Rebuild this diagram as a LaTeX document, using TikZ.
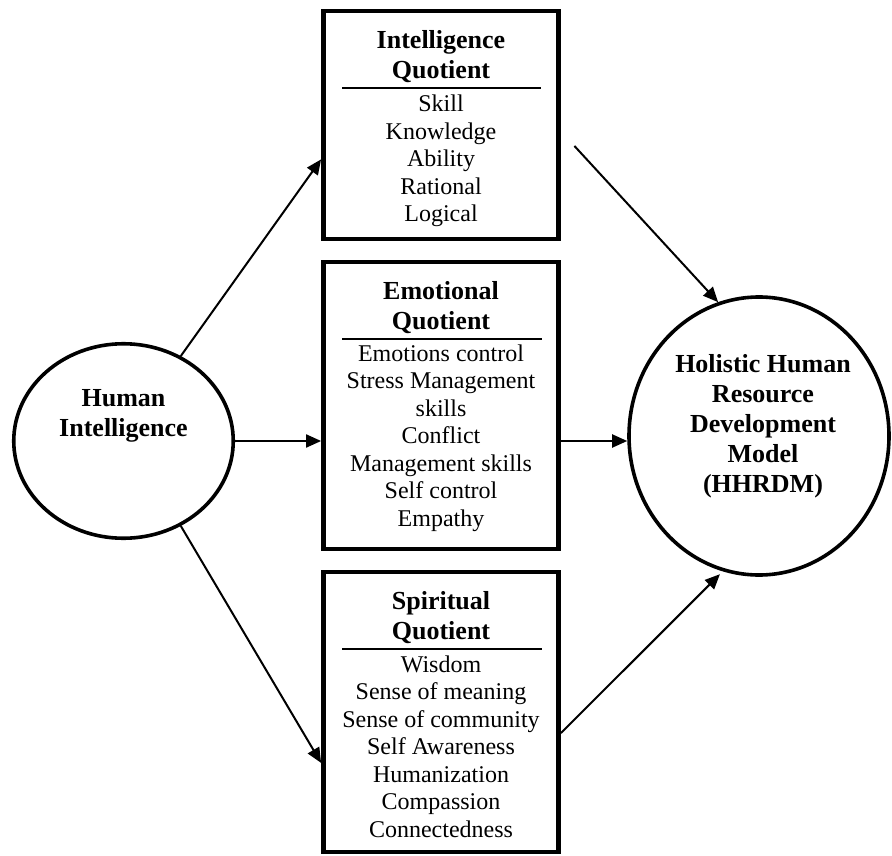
\documentclass[tikz,border=0pt]{standalone}
\usepackage{fontspec}
\setmainfont{Liberation Serif}
\usepackage{tikz}
\usetikzlibrary{arrows.meta}
\usetikzlibrary{shapes.geometric}

\begin{document}
\begin{tikzpicture}[
        x=0.5pt, y=-0.5pt,
        % frame around each quotient
        qbox/.style={rectangle, draw, line width=2.4pt, minimum width=117.5pt, inner sep=0pt},
        % bold heading inside a frame
        qhead/.style={align=center, font=\fontsize{13}{15}\selectfont\bfseries},
        % items under the heading
        qlist/.style={align=center, font=\fontsize{12}{13.75}\selectfont},
        % rule under a heading
        rulebar/.style={line width=1.2pt},
        % the two round nodes
        bubble/.style={ellipse, draw, line width=1.8pt, inner sep=0pt},
        bubtext/.style={align=center, font=\fontsize{13}{15}\selectfont\bfseries},
        link/.style={line width=1pt, -{Triangle[length=7.5pt, width=6.5pt]}}
    ]
    \useasboundingbox (0,0) rectangle (892,855);

    % --- round nodes ---
    \node[bubble, minimum width=109.75pt, minimum height=97.25pt] (HI) at (123.5,441) {};
    \node[bubtext] (HItext) at (123.5,416) {Human\\Intelligence};

    \node[bubble, minimum width=130pt, minimum height=139pt] (HR) at (759,436) {};
    \node[bubtext] (HRtext) at (763,426) {Holistic Human\\Resource\\Development\\Model\\(HHRDM)};

    % --- the three quotient frames ---
    \node[qbox, minimum height=114pt] (IQ) at (441,125) {};
    \node[qhead] (IQhead) at (441,57) {Intelligence\\Quotient};
    \draw[rulebar] (342,88) -- (541,88);
    \node[qlist] (IQlist) at (441,161) {Skill\\Knowledge\\Ability\\Rational\\Logical};

    \node[qbox, minimum height=143.5pt] (EQ) at (441,405.5) {};
    \node[qhead] (EQhead) at (441,308) {Emotional\\Quotient};
    \draw[rulebar] (342,339) -- (542,339);
    \node[qlist] (EQlist) at (441,438) {Emotions control\\Stress Management\\skills\\Conflict\\Management skills\\Self control\\Empathy};

    \node[qbox, minimum height=140pt] (SQ) at (441,712) {};
    \node[qhead] (SQhead) at (441,618) {Spiritual\\Quotient};
    \draw[rulebar] (342,649) -- (542,649);
    \node[qlist] (SQlist) at (441,746.5) {Wisdom\\Sense of meaning\\Sense of community\\Self Awareness\\Humanization\\Compassion\\Connectedness};

    % --- connections ---
    \draw[link] (HI.56) -- (IQ.196);
    \draw[link] (HI.east) -- (EQ.west |- HI);
    \draw[link] (HI.-56) -- (SQ.203);
    \draw[link, shorten <=10pt] (IQ.-3) -- (HR.107);
    \draw[link] (EQ.east |- HI) -- (HR.west |- HI);
    \draw[link, shorten >=2pt] (SQ.-10) -- (HR.-105);

\end{tikzpicture}
\end{document}
